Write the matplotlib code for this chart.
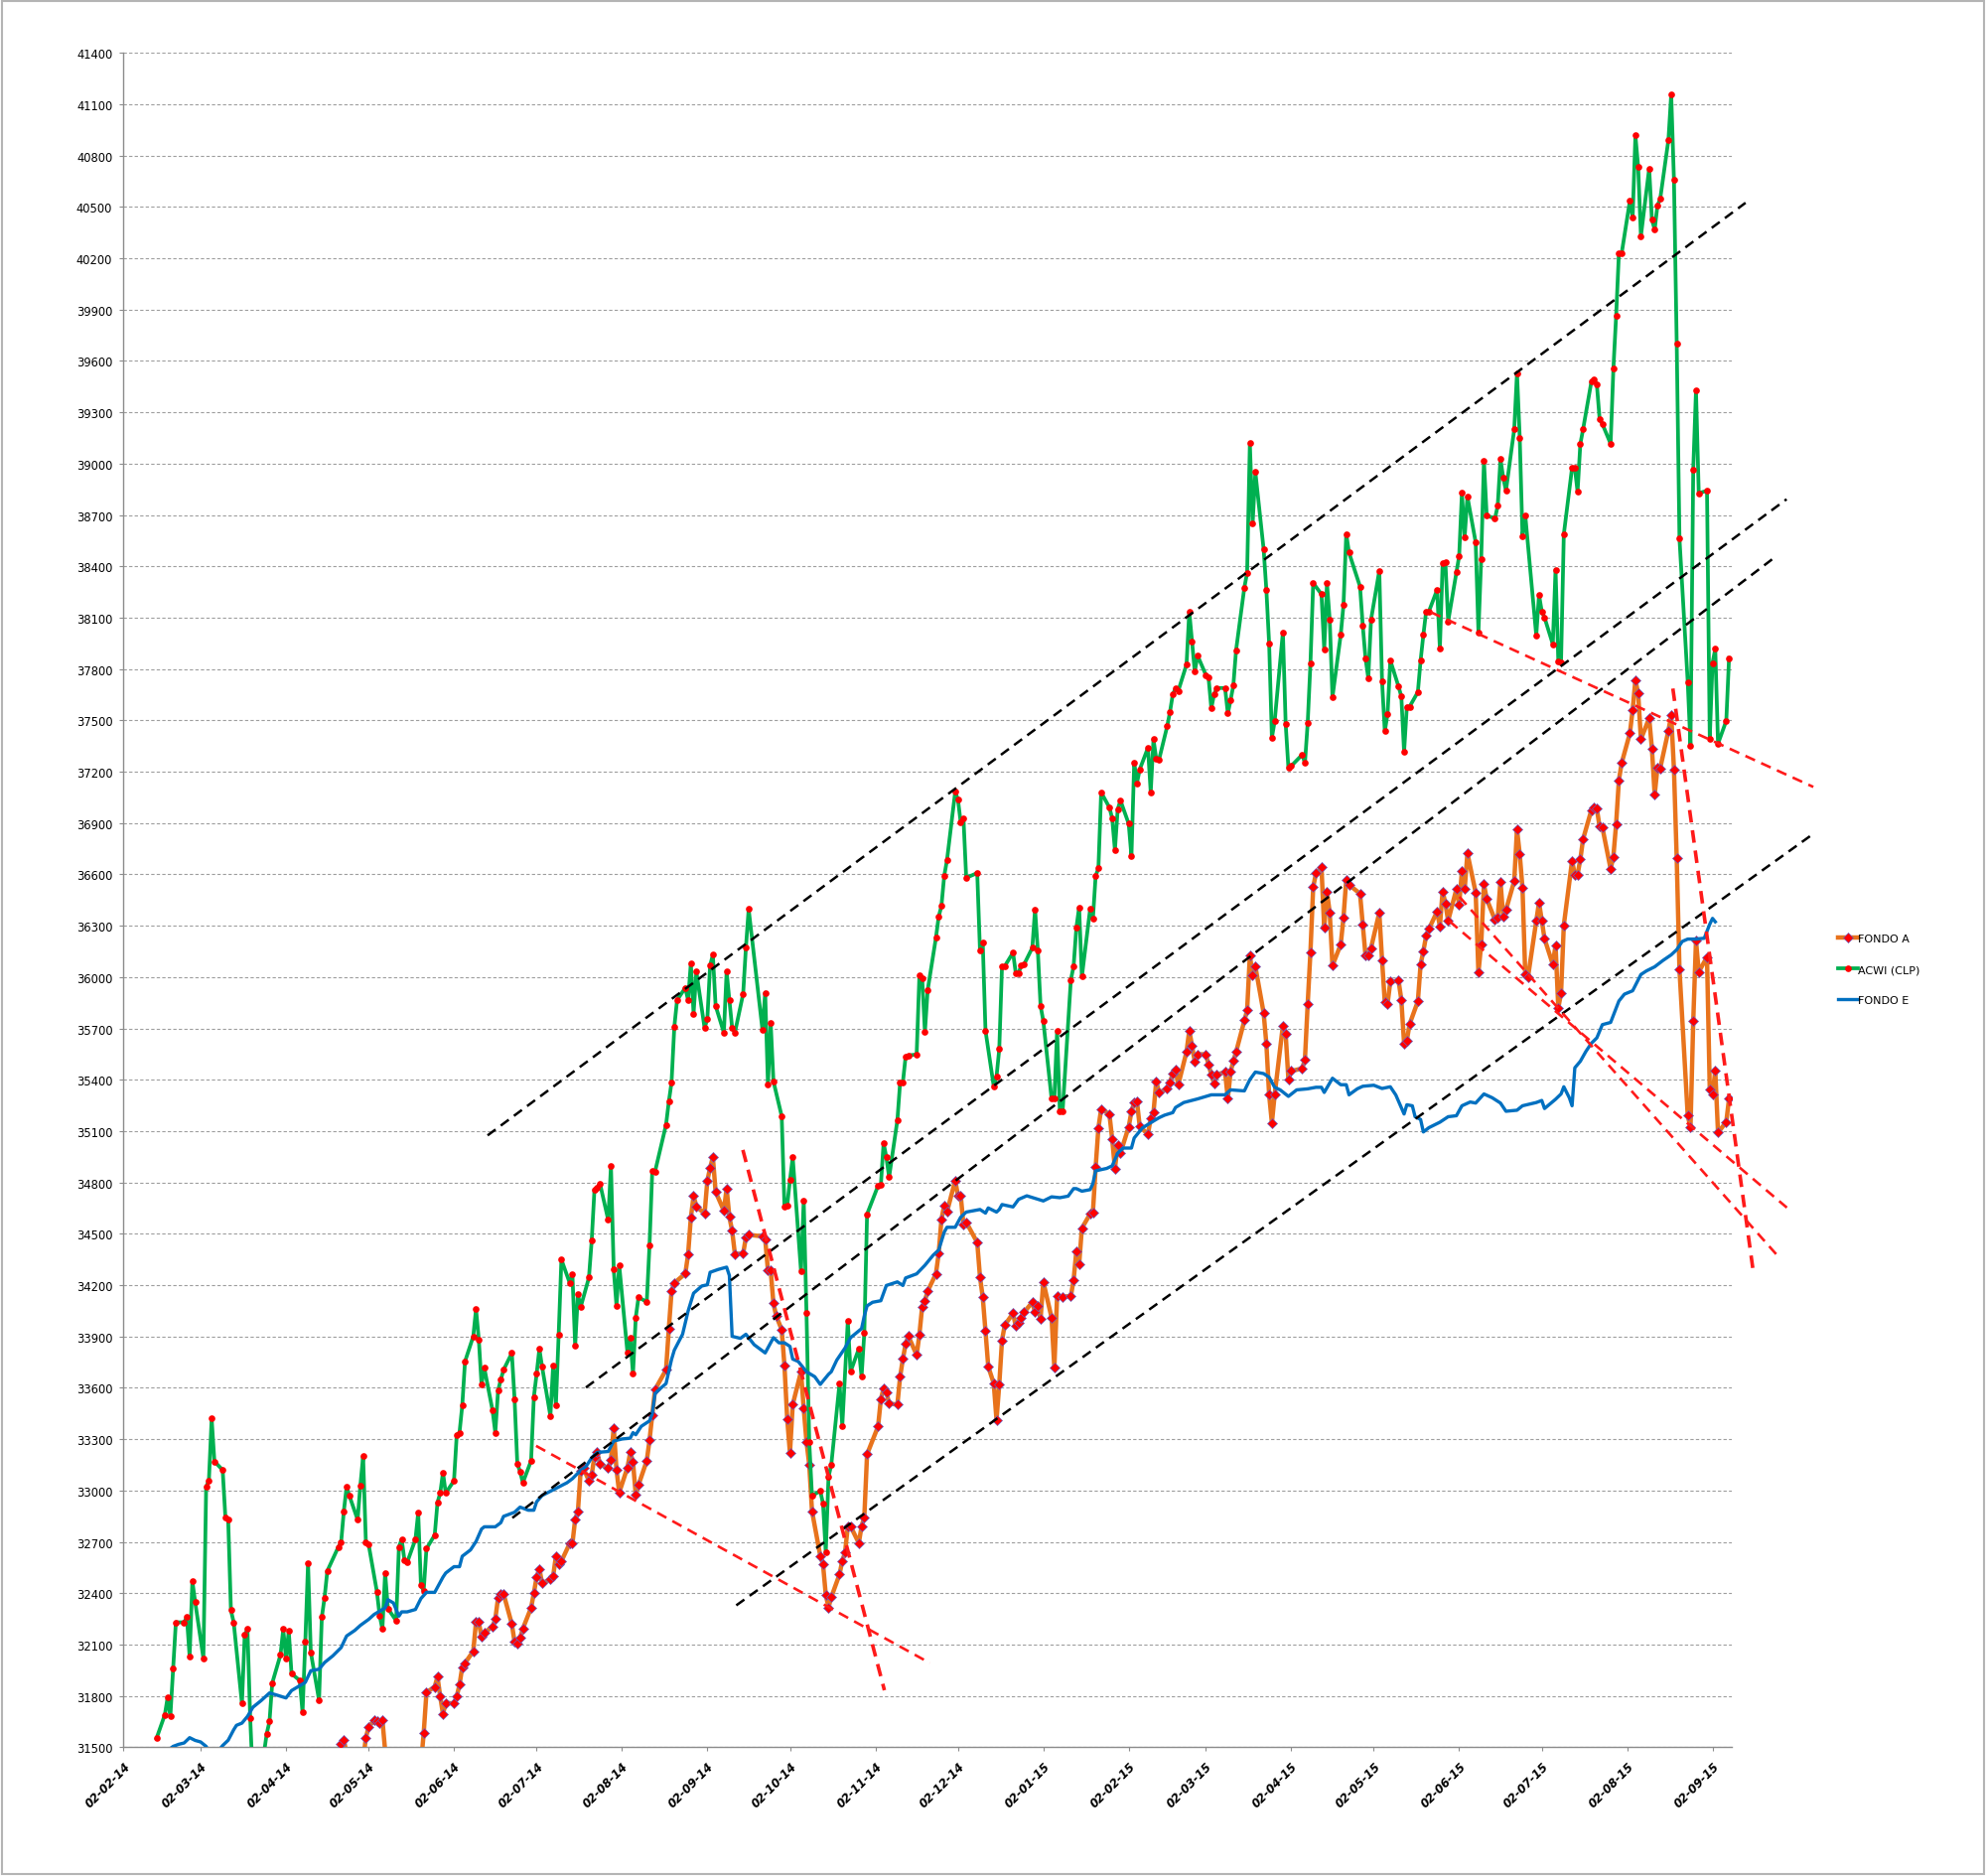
import pandas as pd
import matplotlib
matplotlib.use('Agg')
import matplotlib.pyplot as plt
from matplotlib.patches import Rectangle

# x values are days counted from 02-02-14 (left edge of the axis)
start = pd.Timestamp('2014-02-02')

acwi_days = [
    12, 15, 16, 17, 18, 19, 22, 23, 24, 25,
    26, 29, 30, 31, 32, 33, 36, 37, 38, 39,
    40, 43, 44, 45, 46, 47, 50, 52, 53, 54,
    57, 58, 59, 60, 61, 64, 65, 66, 67, 68,
    71, 72, 73, 74, 78, 79, 80, 81, 82, 85,
    86, 87, 88, 89, 92, 93, 94, 95, 96, 99,
    100, 101, 102, 103, 106, 107, 108, 109, 110, 113,
    114, 115, 116, 117, 120, 121, 122, 123, 124, 127,
    128, 129, 130, 131, 134, 135, 136, 137, 138, 141,
    142, 143, 144, 145, 148, 149, 150, 151, 152, 155,
    156, 157, 158, 159, 162, 163, 164, 165, 166, 169,
    170, 171, 172, 173, 176, 177, 178, 179, 180, 183,
    184, 185, 186, 187, 190, 191, 192, 193, 197, 198,
    199, 200, 201, 204, 205, 206, 207, 208, 211, 212,
    213, 214, 215, 218, 219, 220, 221, 222, 225, 226,
    227, 232, 233, 234, 235, 236, 239, 240, 241, 242,
    243, 246, 247, 248, 249, 250, 253, 254, 255, 256,
    257, 260, 261, 263, 264, 267, 268, 269, 270, 274,
    275, 276, 277, 278, 281, 282, 283, 284, 285, 288,
    289, 290, 291, 292, 295, 296, 297, 298, 299, 302,
    303, 304, 305, 306, 310, 311, 312, 313, 316, 317,
    318, 319, 320, 323, 324, 325, 326, 327, 330, 331,
    332, 333, 334, 337, 338, 339, 340, 341, 344, 345,
    346, 347, 348, 351, 352, 353, 354, 355, 358, 359,
    360, 361, 362, 365, 366, 367, 368, 369, 372, 373,
    374, 375, 376, 379, 380, 381, 382, 383, 386, 387,
    388, 389, 390, 393, 394, 395, 396, 397, 400, 401,
    402, 403, 404, 407, 408, 409, 410, 411, 414, 415,
    416, 417, 418, 421, 422, 423, 424, 428, 429, 430,
    431, 432, 435, 436, 437, 438, 439, 442, 443, 444,
    445, 449, 450, 451, 452, 453, 456, 457, 458, 459,
    460, 463, 464, 465, 466, 467, 470, 471, 472, 473,
    474, 477, 478, 479, 480, 481, 484, 485, 486, 487,
    488, 491, 492, 493, 494, 495, 498, 499, 500, 501,
    502, 505, 506, 507, 508, 509, 513, 514, 515, 516,
    519, 520, 521, 522, 523, 526, 527, 528, 529, 530,
    533, 534, 535, 536, 537, 540, 541, 542, 543, 544,
    547, 548, 549, 550, 551, 554, 555, 556, 557, 558,
    561, 562, 563, 564, 565, 568, 569, 570, 571, 572,
    575, 576, 577, 578, 579, 582, 583,
]
acwi_vals = [
    31553, 31690, 31790, 31680, 31960, 32230, 32230, 32260, 32030, 32470,
    32350, 32020, 33020, 33060, 33420, 33170, 33120, 32840, 32830, 32300,
    32230, 31755, 32155, 32190, 31670, 31300, 31350, 31580, 31650, 31875,
    32040, 32190, 32020, 32180, 31930, 31890, 31705, 32115, 32575, 32055,
    31775, 32260, 32375, 32530, 32670, 32695, 32880, 33020, 32970, 32830,
    33030, 33200, 32700, 32685, 32410, 32270, 32190, 32520, 32310, 32240,
    32670, 32715, 32595, 32580, 32715, 32870, 32445, 32415, 32660, 32740,
    32930, 32985, 33105, 32985, 33057, 33326, 33338, 33497, 33754, 33901,
    34060, 33884, 33620, 33717, 33468, 33338, 33583, 33649, 33705, 33803,
    33534, 33155, 33111, 33045, 33174, 33546, 33681, 33828, 33722, 33436,
    33730, 33497, 33908, 34349, 34214, 34263, 33845, 34146, 34072, 34244,
    34459, 34757, 34770, 34794, 34581, 34897, 34292, 34080, 34317, 33803,
    33894, 33681, 34011, 34129, 34102, 34434, 34868, 34863, 35137, 35271,
    35385, 35708, 35865, 35938, 35865, 36080, 35787, 36032, 35702, 35757,
    36068, 36130, 35832, 35675, 36033, 35865, 35704, 35675, 35902, 36172,
    36397, 35693, 35909, 35373, 35734, 35391, 35187, 34657, 34666, 34814,
    34947, 34284, 34695, 34038, 33286, 32969, 32998, 32924, 32637, 33080,
    33150, 33626, 33378, 33990, 33694, 33828, 33665, 33922, 34615, 34781,
    34784, 35030, 34947, 34831, 35163, 35385, 35385, 35536, 35542, 35548,
    36010, 35996, 35678, 35924, 36229, 36353, 36415, 36590, 36681, 37082,
    37037, 36903, 36928, 36580, 36608, 36155, 36204, 35687, 35361, 35418,
    35580, 36063, 36064, 36143, 36023, 36023, 36069, 36074, 36171, 36396,
    36155, 35832, 35743, 35290, 35290, 35687, 35213, 35214, 35984, 36064,
    36289, 36407, 36002, 36398, 36339, 36591, 36635, 37079, 36991, 36928,
    36742, 36979, 37032, 36896, 36706, 37254, 37133, 37213, 37340, 37079,
    37390, 37275, 37269, 37467, 37550, 37651, 37686, 37672, 37826, 38136,
    37962, 37784, 37879, 37766, 37749, 37571, 37651, 37689, 37689, 37541,
    37618, 37704, 37911, 38276, 38362, 39120, 38650, 38950, 38500, 38261,
    37947, 37399, 37494, 38015, 37479, 37222, 37233, 37299, 37251, 37485,
    37834, 38302, 38237, 37914, 38302, 38086, 37636, 38000, 38175, 38590,
    38480, 38282, 38053, 37862, 37748, 38088, 38374, 37729, 37436, 37538,
    37850, 37697, 37640, 37315, 37580, 37580, 37665, 37850, 37999, 38136,
    38136, 38263, 37919, 38419, 38425, 38078, 38365, 38460, 38829, 38572,
    38807, 38540, 38015, 38444, 39017, 38696, 38680, 38753, 39026, 38918,
    38842, 39201, 39530, 39150, 38578, 38699, 37996, 38234, 38136, 38101,
    37945, 38381, 37846, 37840, 38587, 38976, 38976, 38836, 39115, 39201,
    39478, 39494, 39462, 39262, 39232, 39116, 39554, 39863, 40228, 40228,
    40537, 40440, 40917, 40734, 40330, 40724, 40426, 40368, 40508, 40546,
    40893, 41158, 40657, 39704, 38562, 37725, 37354, 38967, 39429, 38827,
    38842, 37392, 37835, 37917, 37364, 37498, 37864,
]

fondo_a_days = [
    12, 20, 30, 40, 50, 60, 70, 76, 79, 80,
    82, 87, 88, 89, 91, 92, 93, 94, 96, 103,
    108, 109, 110, 113, 114, 115, 116, 117, 120, 121,
    122, 123, 124, 127, 128, 129, 130, 131, 134, 135,
    136, 137, 138, 141, 142, 143, 144, 145, 148, 149,
    150, 151, 152, 155, 156, 157, 158, 159, 162, 163,
    164, 165, 166, 167, 169, 170, 171, 172, 173, 176,
    177, 178, 179, 180, 183, 184, 185, 186, 187, 190,
    191, 192, 193, 197, 198, 199, 200, 204, 205, 206,
    207, 208, 211, 212, 213, 214, 215, 218, 219, 220,
    221, 222, 225, 226, 227, 232, 233, 234, 235, 236,
    237, 239, 240, 241, 242, 243, 246, 247, 248, 249,
    250, 253, 254, 255, 256, 257, 260, 261, 262, 263,
    264, 267, 268, 269, 270, 274, 275, 276, 277, 278,
    281, 282, 283, 284, 285, 288, 289, 290, 291, 292,
    295, 296, 297, 298, 299, 302, 303, 304, 305, 306,
    310, 311, 312, 313, 314, 316, 317, 318, 319, 320,
    323, 324, 325, 326, 327, 330, 331, 332, 333, 334,
    337, 338, 339, 341, 344, 345, 346, 347, 348, 351,
    352, 353, 354, 355, 358, 359, 360, 361, 362, 365,
    366, 367, 368, 369, 372, 373, 374, 375, 376, 379,
    380, 381, 382, 383, 386, 387, 388, 389, 390, 393,
    394, 395, 396, 397, 400, 401, 402, 403, 404, 407,
    408, 409, 410, 411, 414, 415, 416, 417, 418, 421,
    422, 423, 424, 428, 429, 430, 431, 432, 433, 435,
    436, 437, 438, 439, 442, 443, 444, 445, 449, 450,
    451, 452, 453, 456, 457, 458, 459, 460, 463, 464,
    465, 466, 467, 470, 471, 472, 473, 474, 477, 478,
    479, 480, 481, 484, 485, 486, 487, 488, 491, 492,
    493, 494, 495, 498, 499, 500, 501, 502, 505, 506,
    507, 508, 509, 510, 513, 514, 515, 516, 519, 520,
    521, 522, 523, 526, 527, 528, 529, 530, 533, 534,
    535, 536, 537, 540, 541, 542, 543, 544, 547, 548,
    549, 550, 551, 554, 555, 556, 557, 558, 561, 562,
    563, 564, 565, 568, 569, 570, 571, 572, 575, 576,
    577, 578, 579, 582, 583,
]
fondo_a_vals = [
    31050, 31200, 31000, 31150, 30950, 31200, 31300, 31400, 31521, 31544,
    31380, 31420, 31556, 31618, 31657, 31653, 31641, 31660, 31300, 31250,
    31400, 31582, 31820, 31853, 31912, 31797, 31694, 31760, 31755, 31797,
    31865, 31968, 31992, 32061, 32232, 32232, 32144, 32169, 32205, 32249,
    32372, 32396, 32396, 32220, 32115, 32107, 32139, 32193, 32315, 32401,
    32494, 32543, 32457, 32482, 32499, 32616, 32567, 32587, 32690, 32690,
    32832, 32878, 33118, 33130, 33057, 33093, 33199, 33223, 33155, 33130,
    33179, 33367, 33123, 32988, 33135, 33223, 33167, 32976, 33032, 33174,
    33294, 33443, 33590, 33705, 33943, 34163, 34212, 34268, 34378, 34593,
    34721, 34660, 34618, 34811, 34885, 34948, 34745, 34635, 34765, 34598,
    34518, 34383, 34384, 34479, 34494, 34485, 34470, 34287, 34287, 34094,
    34020, 33940, 33730, 33419, 33221, 33502, 33694, 33478, 33286, 33152,
    32880, 32619, 32569, 32391, 32317, 32377, 32510, 32590, 32637, 32791,
    32791, 32693, 32791, 32845, 33212, 33375, 33532, 33597, 33576, 33508,
    33502, 33665, 33768, 33857, 33902, 33792, 33911, 34073, 34109, 34165,
    34266, 34384, 34583, 34666, 34627, 34811, 34725, 34725, 34553, 34568,
    34449, 34248, 34130, 33931, 33724, 33626, 33413, 33620, 33878, 33967,
    34035, 33961, 33982, 34011, 34041, 34100, 34041, 34079, 34005, 34219,
    34010, 33720, 34136, 34133, 34136, 34231, 34400, 34320, 34533, 34616,
    34625, 34888, 35119, 35229, 35199, 35054, 34882, 35016, 34971, 35125,
    35214, 35267, 35273, 35128, 35081, 35178, 35208, 35392, 35326, 35347,
    35386, 35436, 35460, 35371, 35563, 35688, 35599, 35504, 35549, 35549,
    35489, 35430, 35380, 35430, 35445, 35291, 35445, 35510, 35563, 35747,
    35806, 36126, 36008, 36061, 35791, 35608, 35312, 35149, 35312, 35717,
    35667, 35401, 35451, 35466, 35519, 35844, 36147, 36526, 36606, 36644,
    36289, 36496, 36378, 36067, 36191, 36348, 36570, 36540, 36487, 36304,
    36126, 36129, 36170, 36377, 36100, 35852, 35845, 35973, 35979, 35868,
    35613, 35629, 35725, 35858, 36074, 36151, 36240, 36281, 36383, 36297,
    36501, 36431, 36329, 36514, 36424, 36618, 36514, 36723, 36494, 36027,
    36192, 36542, 36456, 36335, 36345, 36558, 36351, 36393, 36561, 36863,
    36717, 36520, 36017, 36001, 36329, 36437, 36329, 36224, 36074, 36186,
    35820, 35906, 36303, 36679, 36599, 36599, 36688, 36806, 36975, 36990,
    36983, 36879, 36875, 36632, 36704, 36895, 37150, 37250, 37425, 37561,
    37735, 37657, 37390, 37513, 37335, 37065, 37224, 37220, 37441, 37530,
    37214, 36694, 36044, 35192, 35120, 35741, 36213, 36030, 36117, 35346,
    35313, 35452, 35091, 35154, 35289,
]

fondo_e_days = [
    16, 18, 20, 22, 24, 26, 28, 30, 32, 34,
    36, 38, 40, 41, 43, 45, 47, 50, 53, 55,
    59, 61, 64, 66, 68, 71, 73, 76, 79, 81,
    84, 86, 89, 91, 93, 95, 96, 98, 100, 101,
    103, 106, 108, 110, 113, 116, 117, 120, 122, 123,
    126, 128, 130, 131, 135, 137, 138, 142, 144, 147,
    149, 150, 152, 155, 157, 160, 161, 163, 166, 168,
    170, 172, 176, 178, 181, 184, 185, 186, 188, 191,
    192, 193, 194, 197, 199, 200, 203, 205, 207, 210,
    212, 213, 216, 219, 220, 221, 224, 226, 229, 233,
    236, 238, 240, 242, 243, 245, 248, 251, 253, 256,
    257, 259, 262, 264, 268, 269, 270, 272, 275, 277,
    281, 283, 284, 288, 291, 294, 296, 298, 299, 302,
    304, 306, 311, 313, 314, 317, 318, 319, 323, 325,
    328, 334, 337, 340, 343, 345, 346, 348, 351, 352,
    353, 357, 359, 361, 363, 366, 367, 370, 373, 376,
    378, 381, 382, 385, 390, 395, 400, 402, 407, 409,
    411, 414, 416, 418, 420, 423, 426, 430, 433, 435,
    436, 439, 442, 444, 445, 448, 450, 454, 457, 460,
    462, 465, 466, 468, 469, 471, 472, 474, 478, 481,
    484, 486, 489, 491, 494, 497, 500, 502, 506, 508,
    513, 515, 516, 520, 522, 523, 525, 526, 527, 529,
    531, 533, 535, 537, 540, 543, 545, 548, 551, 553,
    556, 559, 562, 564, 566, 568, 571, 574, 576, 577,
    578,
]
fondo_e_vals = [
    31480, 31505, 31517, 31525, 31556, 31540, 31531, 31505, 31440, 31470,
    31510, 31541, 31602, 31628, 31641, 31680, 31734, 31773, 31817, 31808,
    31788, 31831, 31860, 31879, 31947, 31956, 31995, 32034, 32082, 32150,
    32183, 32212, 32247, 32276, 32295, 32314, 32362, 32343, 32266, 32291,
    32291, 32305, 32369, 32405, 32405, 32494, 32518, 32555, 32555, 32616,
    32653, 32702, 32775, 32788, 32788, 32812, 32849, 32873, 32903, 32885,
    32885, 32934, 32971, 32996, 33013, 33037, 33045, 33069, 33118, 33142,
    33191, 33223, 33228, 33289, 33301, 33306, 33338, 33326, 33375, 33407,
    33448, 33566, 33583, 33625, 33766, 33820, 33913, 34048, 34153, 34195,
    34202, 34275, 34292, 34305, 34256, 33901, 33889, 33913, 33852, 33804,
    33893, 33863, 33863, 33842, 33768, 33754, 33694, 33665, 33620, 33679,
    33694, 33762, 33833, 33893, 33946, 34020, 34079, 34100, 34109, 34198,
    34219, 34198, 34242, 34266, 34316, 34375, 34405, 34509, 34538, 34538,
    34597, 34627, 34642, 34621, 34651, 34627, 34642, 34671, 34657, 34701,
    34722, 34692, 34716, 34711, 34720, 34764, 34764, 34749, 34758, 34793,
    34868, 34882, 34897, 34971, 35001, 35001, 35060, 35119, 35149, 35178,
    35193, 35208, 35238, 35267, 35288, 35312, 35312, 35341, 35335, 35401,
    35445, 35436, 35415, 35356, 35341, 35303, 35341, 35347, 35356, 35356,
    35326, 35409, 35371, 35371, 35312, 35347, 35362, 35368, 35349, 35359,
    35311, 35200, 35254, 35248, 35184, 35168, 35095, 35120, 35152, 35184,
    35190, 35248, 35270, 35264, 35317, 35295, 35264, 35216, 35222, 35248,
    35267, 35279, 35232, 35286, 35317, 35359, 35295, 35248, 35470, 35508,
    35565, 35613, 35645, 35722, 35735, 35860, 35900, 35920, 36015, 36036,
    36060, 36097, 36130, 36160, 36208, 36222, 36222, 36227, 36309, 36343,
    36323,
]

# hand-drawn trend lines: (day0, value0, day1, value1)
black_lines = [
    (132.2, 35075, 589.0, 40524),
    (167.9, 33602, 603.9, 38792),
    (141.2, 32840, 599.8, 38455),
    (222.5, 32329, 613.6, 36837),
]
red_lines = [
    (149.8, 33261, 292.8, 31992),
    (474.7, 38132, 613.6, 37111),
    (481.5, 36326, 604.0, 34653),
    (485.1, 36469, 601.0, 34365),
]
red_steep_lines = [
    (224.9, 34990, 276.3, 31833),
    (562.6, 37686, 592.0, 34256),
]


def to_dates(days):
    return start + pd.to_timedelta(days, unit='D')


fig = plt.figure(figsize=(20, 18.9), dpi=100)
ax = fig.add_axes([0.0622, 0.0686, 0.8098, 0.9027])

ax.plot(to_dates(fondo_a_days), fondo_a_vals, color='#E8731C', lw=3.2,
        marker='D', ms=4.6, mfc='#FF0000', mec='#6A5FC0', mew=0.5,
        label='FONDO A', zorder=3)
ax.plot(to_dates(acwi_days), acwi_vals, color='#00B050', lw=2.7,
        marker='o', ms=4.8, mfc='#FF0000', mec='#FF0000', mew=0,
        label='ACWI (CLP)', zorder=4)
ax.plot(to_dates(fondo_e_days), fondo_e_vals, color='#0070C0', lw=2.4,
        label='FONDO E', zorder=5)

for d0, v0, d1, v1 in black_lines:
    ax.plot(to_dates([d0, d1]), [v0, v1], color='black', lw=1.8,
            dashes=(4, 2.6), clip_on=False, zorder=6)
for d0, v0, d1, v1 in red_lines:
    ax.plot(to_dates([d0, d1]), [v0, v1], color='#FF1A1A', lw=1.9,
            dashes=(4, 2.6), clip_on=False, zorder=6)
for d0, v0, d1, v1 in red_steep_lines:
    ax.plot(to_dates([d0, d1]), [v0, v1], color='#FF1A1A', lw=2.6,
            dashes=(3.5, 2.2), clip_on=False, zorder=6)

ax.set_ylim(31500, 41400)
ax.set_yticks(range(31500, 41401, 300))
ax.set_xlim(start, start + pd.Timedelta(days=584))

month_ticks = pd.date_range('2014-02-01', '2015-09-01', freq='MS') + pd.Timedelta(days=1)
ax.set_xticks(month_ticks)
ax.set_xticklabels([d.strftime('%d-%m-%y') for d in month_ticks], rotation=45,
                   ha='right', va='top', rotation_mode='anchor',
                   fontsize=8.5, fontweight='bold', fontstyle='italic')
for lbl in ax.get_yticklabels():
    lbl.set_fontsize(8.3)

ax.tick_params(axis='both', direction='out', length=3, width=0.8, color='#8C8C8C')
ax.tick_params(axis='y', pad=5)
ax.tick_params(axis='x', pad=6)

ax.yaxis.grid(True, linestyle=(0, (3, 2)), color='#9E9E9E', lw=0.8)
ax.set_axisbelow(True)
for side in ['top', 'right']:
    ax.spines[side].set_visible(False)
for side in ['left', 'bottom']:
    ax.spines[side].set_color('#8C8C8C')
    ax.spines[side].set_linewidth(1.0)

ax.legend(loc='center left', bbox_to_anchor=(0.9225, 0.483),
          bbox_transform=fig.transFigure, frameon=False, fontsize=8,
          handlelength=1.8, handletextpad=0.05, labelspacing=1.9, borderpad=0)

fig.add_artist(Rectangle((0.0008, 0.0008), 0.9984, 0.9984, transform=fig.transFigure,
                         fill=False, edgecolor='#B4B4B4', lw=1.5))

fig.savefig('out.png', dpi=100)
